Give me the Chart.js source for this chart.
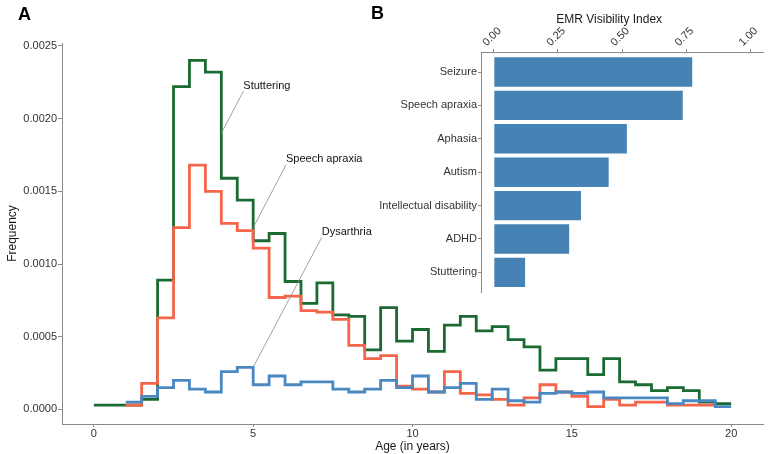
<!DOCTYPE html>
<html>
<head>
<meta charset="utf-8">
<script src="https://cdn.jsdelivr.net/npm/chart.js@4.4.1/dist/chart.umd.min.js"></script>
<style>
  html, body { margin: 0; padding: 0; background: #ffffff; }
  #wrap { position: relative; width: 768px; height: 454px; background: #ffffff; overflow: hidden; }
  #mainChart { position: absolute; left: 0; top: 0; }
  #insetChart { position: absolute; left: 370px; top: 0; }
  .panel-tag { position: absolute; font: bold 18px Arial, "Liberation Sans", sans-serif; line-height: 18px; color: #000; }
</style>
</head>
<body>
<div id="wrap">
  <canvas id="mainChart" width="768" height="454"></canvas>
  <canvas id="insetChart" width="398" height="300"></canvas>
  <div class="panel-tag" style="left:18px;top:5px">A</div>
  <div class="panel-tag" style="left:371px;top:4px">B</div>
</div>
<script>
// ---- panel A: age histograms (bins of half a year) ----
const binWidth = 0.5;

const stutteringStart = 0;
const stutteringFreq = [
  0.00003, 0.00003, 0.00003, 0.00007, 0.00089, 0.00222, 0.00240, 0.00232, 0.00159, 0.00144,
  0.00116, 0.00121, 0.00088, 0.00073, 0.00087, 0.00065, 0.00064, 0.00041, 0.00070, 0.00047,
  0.00055, 0.00040, 0.00058, 0.00064, 0.00054, 0.00057, 0.00048, 0.00043, 0.00027, 0.00035,
  0.00035, 0.00024, 0.00035, 0.00019, 0.00017, 0.00013, 0.00015, 0.00013, 0.00005, 0.00004
];

const apraxiaStart = 1;
const apraxiaFreq = [
  0.00003, 0.00018, 0.00063, 0.00125, 0.00168, 0.00150, 0.00128, 0.00123, 0.00111, 0.00077,
  0.00078, 0.00068, 0.00067, 0.00062, 0.00044, 0.00035, 0.00037, 0.00016, 0.00014, 0.00012,
  0.00026, 0.00011, 0.00010, 0.00007, 0.00003, 0.00008, 0.00017, 0.00012, 0.00009, 0.00002,
  0.00007, 0.00003, 0.00005, 0.00005, 0.00003, 0.00003, 0.00003
];

const dysarthriaStart = 1;
const dysarthriaFreq = [
  0.00005, 0.00009, 0.00015, 0.00020, 0.00014, 0.00012, 0.00026, 0.00029, 0.00017, 0.00023,
  0.00017, 0.00019, 0.00019, 0.00014, 0.00012, 0.00014, 0.00020, 0.00015, 0.00023, 0.00012,
  0.00015, 0.00018, 0.00007, 0.00014, 0.00006, 0.00005, 0.00011, 0.00012, 0.00011, 0.00012,
  0.00008, 0.00008, 0.00008, 0.00008, 0.00004, 0.00006, 0.00006, 0.00002
];

const ageTicks = [0, 5, 10, 15, 20];
const freqTicks = [0, 0.0005, 0.001, 0.0015, 0.002, 0.0025];

// repel-style labels: where the text sits and which point it points at
const labelNames = ['Stuttering', 'Speech apraxia', 'Dysarthria'];
const labelPointAge = [4, 5, 5];
const labelPointFreq = [0.0019, 0.00125, 0.00029];
const labelTextAge = [4.69, 6.03, 7.15];
const labelTextFreq = [0.002225, 0.00172, 0.00122];

// ---- panel B: EMR visibility index ----
const conditions = ['Seizure', 'Speech apraxia', 'Aphasia', 'Autism', 'Intellectual disability', 'ADHD', 'Stuttering'];
const visibilityIndex = [0.774, 0.737, 0.519, 0.448, 0.340, 0.294, 0.122];
const indexTicks = [0, 0.25, 0.5, 0.75, 1];

const FONT = 'Arial, "Liberation Sans", sans-serif';
Chart.defaults.font.family = FONT;
Chart.defaults.color = '#333333';

// step outline: one point per bin start plus the closing edge
function stepPoints(start, values) {
  const pts = values.map((v, i) => ({ x: start + i * binWidth, y: v }));
  pts.push({ x: start + values.length * binWidth, y: values[values.length - 1] });
  return pts;
}

function stepSeries(label, start, values, color) {
  return {
    label: label,
    data: stepPoints(start, values),
    stepped: 'before',
    borderColor: color,
    borderWidth: 2.8,
    borderJoinStyle: 'miter',
    pointRadius: 0,
    fill: false
  };
}

const repelLabels = {
  id: 'repelLabels',
  afterDatasetsDraw(chart) {
    const { ctx, scales: { x, y } } = chart;
    ctx.save();
    ctx.font = '11px ' + FONT;
    ctx.textAlign = 'left';
    ctx.textBaseline = 'middle';
    labelNames.forEach((name, i) => {
      const tx = x.getPixelForValue(labelTextAge[i]);
      const ty = y.getPixelForValue(labelTextFreq[i]);
      const px = x.getPixelForValue(labelPointAge[i]);
      const py = y.getPixelForValue(labelPointFreq[i]);
      ctx.strokeStyle = '#8c8c8c';
      ctx.lineWidth = 0.8;
      ctx.beginPath();
      ctx.moveTo(tx, ty + 5.5);
      ctx.lineTo(px, py);
      ctx.stroke();
      ctx.fillStyle = '#111111';
      ctx.fillText(name, tx, ty);
    });
    ctx.restore();
  }
};

new Chart(document.getElementById('mainChart'), {
  type: 'line',
  data: {
    datasets: [
      stepSeries('Dysarthria', dysarthriaStart, dysarthriaFreq, '#4a88c2'),
      stepSeries('Speech apraxia', apraxiaStart, apraxiaFreq, '#f5654b'),
      stepSeries('Stuttering', stutteringStart, stutteringFreq, '#1a6a32')
    ]
  },
  options: {
    responsive: false,
    animation: false,
    layout: { padding: { top: 43, right: 5, bottom: 0, left: 0 } },
    plugins: { legend: { display: false }, tooltip: { enabled: false } },
    scales: {
      x: {
        type: 'linear',
        min: -1,
        max: 21,
        afterBuildTicks: s => { s.ticks = ageTicks.map(v => ({ value: v })); },
        afterFit: s => { s.height = 30; },
        grid: { drawOnChartArea: false, tickLength: 3, color: '#8a8a8a' },
        border: { color: '#8a8a8a', width: 1 },
        ticks: { color: '#333333', font: { size: 11 }, padding: 0, maxRotation: 0 },
        title: { display: true, text: 'Age (in years)', color: '#1a1a1a', font: { size: 12 }, padding: { top: 0, bottom: 0 } }
      },
      y: {
        type: 'linear',
        min: -0.0001,
        max: 0.00252,
        afterBuildTicks: s => { s.ticks = freqTicks.map(v => ({ value: v })); },
        afterFit: s => { s.width = 62; },
        grid: { drawOnChartArea: false, tickLength: 4, color: '#8a8a8a' },
        border: { color: '#8a8a8a', width: 1 },
        ticks: { color: '#333333', font: { size: 11 }, padding: 1, callback: v => v.toFixed(4) },
        title: { display: true, text: 'Frequency', color: '#1a1a1a', font: { size: 12 }, padding: { top: 5, bottom: 0 } }
      }
    }
  },
  plugins: [repelLabels]
});

// axis title of the inset sits a little left of the panel centre
const insetTitleAt = 0.45;
const insetTitle = {
  id: 'insetTitle',
  afterDraw(chart) {
    const { ctx, scales: { x } } = chart;
    ctx.save();
    ctx.font = '12px ' + FONT;
    ctx.fillStyle = '#1a1a1a';
    ctx.textAlign = 'center';
    ctx.textBaseline = 'middle';
    ctx.fillText('EMR Visibility Index', x.getPixelForValue(insetTitleAt), 20);
    ctx.restore();
  }
};

new Chart(document.getElementById('insetChart'), {
  type: 'bar',
  data: {
    datasets: [{
      data: visibilityIndex.map((v, i) => ({ x: v, y: i })),
      backgroundColor: '#4682b4',
      barPercentage: 0.88,
      categoryPercentage: 1
    }]
  },
  options: {
    indexAxis: 'y',
    responsive: false,
    animation: false,
    layout: { padding: { top: 0, right: 5, bottom: 7, left: 0 } },
    plugins: { legend: { display: false }, tooltip: { enabled: false } },
    scales: {
      x: {
        type: 'linear',
        position: 'top',
        min: -0.05,
        max: 1.05,
        afterBuildTicks: s => { s.ticks = indexTicks.map(v => ({ value: v })); },
        afterFit: s => { s.height = 52; },
        grid: { drawOnChartArea: false, tickLength: 3, color: '#8a8a8a' },
        border: { color: '#8a8a8a', width: 1 },
        ticks: { color: '#333333', font: { size: 11 }, padding: 0, minRotation: 45, maxRotation: 45, callback: v => v.toFixed(2) }
      },
      y: {
        type: 'linear',
        reverse: true,
        offset: false,
        min: -0.6,
        max: conditions.length - 0.4,
        afterBuildTicks: s => { s.ticks = conditions.map((c, i) => ({ value: i })); },
        afterFit: s => { s.width = 111; },
        grid: { offset: false, drawOnChartArea: false, tickLength: 3, color: '#8a8a8a' },
        border: { color: '#8a8a8a', width: 1 },
        ticks: { color: '#333333', font: { size: 11 }, padding: 1, callback: v => conditions[v] }
      }
    }
  },
  plugins: [insetTitle]
});
</script>
</body>
</html>
